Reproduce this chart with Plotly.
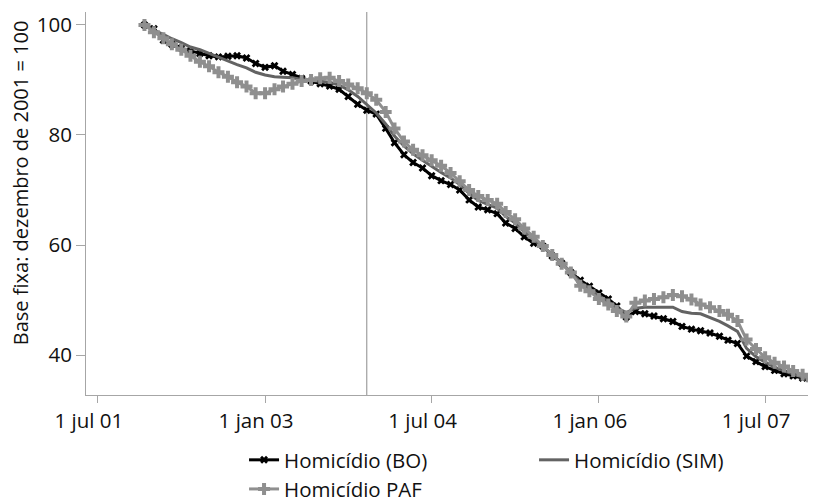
import pandas as pd
import plotly.graph_objects as go

# ---- data (monthly, base Dec 2001 = 100) ----
start_month = "2001-12-01"
n_months = 73
months = pd.date_range(start_month, periods=n_months, freq="MS")

homicidio_bo = [
    100.0, 99.3, 97.2, 96.5, 95.8, 95.3, 94.8, 94.4, 94.2, 94.3,
    94.4, 94.0, 93.0, 92.3, 92.6, 91.6, 91.0, 90.3, 89.8, 89.3,
    88.9, 88.3, 87.0, 85.6, 84.5, 83.8, 81.2, 78.6, 76.4, 75.0,
    74.0, 72.6, 71.7, 71.0, 70.0, 68.2, 66.9, 66.4, 65.7, 64.0,
    63.0, 61.5, 60.3, 59.8, 58.0, 56.7, 55.0, 53.6, 52.5, 51.3,
    50.2, 48.9, 46.9, 47.9, 47.5, 47.1, 46.6, 46.1, 45.2, 44.7,
    44.4, 44.0, 43.4, 42.7, 42.1, 39.8, 38.8, 37.9, 37.2, 36.6,
    36.2, 35.8, 35.4,
]

homicidio_sim = [
    100.0, 99.0, 98.3, 97.5, 96.8, 96.0, 95.5, 94.8, 94.2, 93.4,
    92.8, 92.2, 91.4, 90.9, 90.6, 90.5, 90.4, 90.1, 89.9, 89.7,
    89.6, 89.1, 88.2, 87.0, 85.5, 84.0, 82.0, 79.8, 78.0, 76.6,
    75.4, 74.3, 73.2, 72.2, 71.0, 69.4, 68.1, 67.4, 66.7, 65.2,
    64.0, 62.4, 61.0, 59.8, 58.3, 56.7, 55.0, 53.2, 52.1, 50.8,
    49.7, 48.6, 47.7, 48.5, 48.7, 48.7, 48.7, 48.7, 47.9, 47.6,
    47.5, 46.8, 46.1, 45.3, 44.3, 41.2, 39.7, 38.7, 37.8, 37.1,
    36.5, 36.0, 35.5,
]

homicidio_paf = [
    100.0, 98.7, 97.6, 96.5, 95.5, 94.4, 93.3, 92.5, 91.4, 90.6,
    89.6, 88.8, 87.6, 87.6, 88.3, 88.8, 89.3, 89.8, 90.0, 90.3,
    90.4, 89.8, 89.2, 88.5, 87.6, 86.4, 84.2, 81.2, 78.8, 77.3,
    76.3, 75.4, 74.4, 73.1, 71.6, 70.0, 68.9, 68.2, 67.5, 66.0,
    64.7, 63.0, 61.5, 59.8, 58.2, 56.6, 55.0, 52.6, 51.6, 50.2,
    49.2, 48.0, 47.0, 49.5, 49.9, 50.2, 50.5, 50.9, 50.7, 50.1,
    49.2, 48.7, 48.0, 47.3, 46.2, 42.8, 41.1, 39.6, 38.6, 37.9,
    37.1, 36.4, 35.4,
]

series_names = ["Homicídio (BO)", "Homicídio (SIM)", "Homicídio PAF"]
event_date = "2003-12-01"

tick_dates = ["2001-07-01", "2003-01-01", "2004-07-01", "2006-01-01", "2007-07-01"]
tick_labels = ["1 jul 01", "1 jan 03", "1 jul 04", "1 jan 06", "1 jul 07"]
y_ticks = [40, 60, 80, 100]
y_title = "Base fixa: dezembro de 2001 = 100"

# ---- figure ----
FONT = "Open Sans"
FS = 20.5
TXT = "#111111"
AXIS_GRAY = "#a6a6a6"

fig = go.Figure()
fig.add_trace(go.Scatter(
    x=months, y=homicidio_bo, name=series_names[0], mode="lines+markers",
    line=dict(color="#000000", width=3),
    marker=dict(symbol="x", size=7, color="#000000", line=dict(width=0)),
    legend="legend",
))
fig.add_trace(go.Scatter(
    x=months, y=homicidio_sim, name=series_names[1], mode="lines",
    line=dict(color="#636363", width=3),
    legend="legend",
))
fig.add_trace(go.Scatter(
    x=months, y=homicidio_paf, name=series_names[2], mode="lines+markers",
    line=dict(color="#8f8f8f", width=3),
    marker=dict(symbol="cross", size=10, color="#8f8f8f", line=dict(width=0)),
    legend="legend2",
))

fig.add_vline(x=event_date, line=dict(color="#8c8c8c", width=1), layer="below")

fig.add_annotation(
    text=y_title, textangle=-90, xref="paper", yref="paper",
    x=-0.0904, y=0.553, xanchor="center", yanchor="middle", showarrow=False,
    font=dict(family=FONT, size=20, color=TXT),
)

legend_common = dict(
    orientation="h", xanchor="left", yanchor="top",
    entrywidth=245, entrywidthmode="pixels",
    font=dict(family=FONT, size=FS, color=TXT),
    bgcolor="rgba(0,0,0,0)",
)

# the page body adds an 8px offset, so the figure is sized to end at the window edge
fig.update_layout(
    width=808, height=494,
    margin=dict(l=78, r=0, t=4, b=107, autoexpand=False),
    paper_bgcolor="white", plot_bgcolor="white",
    font=dict(family=FONT, size=FS, color=TXT),
    showlegend=True,
    legend=dict(x=0.2165, y=-0.1175, **legend_common),
    legend2=dict(x=0.2165, y=-0.1935, **legend_common),
    xaxis=dict(
        type="date", range=["2001-05-23", "2007-12-15"],
        tickvals=tick_dates, ticktext=tick_labels,
        showgrid=False, zeroline=False,
        showline=True, linecolor=AXIS_GRAY, linewidth=1,
        ticks="outside", ticklen=7, tickcolor=AXIS_GRAY, tickwidth=1,
        ticklabelshift=-9,
        tickfont=dict(family=FONT, size=FS, color=TXT),
        automargin=False,
    ),
    yaxis=dict(
        range=[32.73, 102.36], tickvals=y_ticks,
        showgrid=False, zeroline=False,
        showline=True, linecolor=AXIS_GRAY, linewidth=1,
        ticks="outside", ticklen=9, tickcolor=AXIS_GRAY, tickwidth=1,
        tickfont=dict(family=FONT, size=FS, color=TXT),
        automargin=False,
    ),
)

fig.write_html("out.html")
